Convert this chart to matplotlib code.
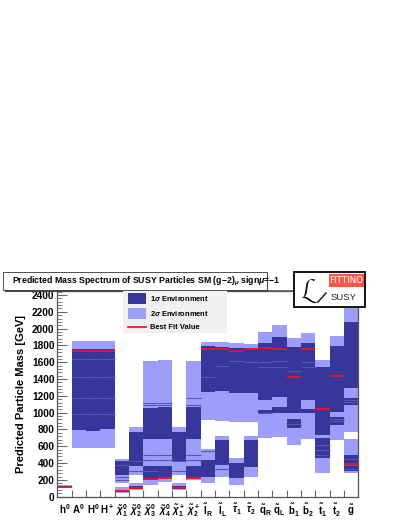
import matplotlib
matplotlib.use("Agg")
import matplotlib.pyplot as plt
from matplotlib.patches import Rectangle
from matplotlib.lines import Line2D

plt.rcParams['font.family'] = ['Liberation Sans', 'DejaVu Sans']
plt.rcParams['mathtext.fontset'] = 'custom'
plt.rcParams['mathtext.rm'] = 'Liberation Sans:bold'
plt.rcParams['mathtext.bf'] = 'Liberation Sans:bold'
plt.rcParams['mathtext.it'] = 'Liberation Sans:bold:italic'

# ---------------- data (GeV) ----------------
labels = [r'$\mathbf{h^0}$', r'$\mathbf{A^0}$', r'$\mathbf{H^0}$', r'$\mathbf{H^+}$',
          r'$\tilde{\chi}^0_1$', r'$\tilde{\chi}^0_2$', r'$\tilde{\chi}^0_3$', r'$\tilde{\chi}^0_4$',
          r'$\tilde{\chi}^+_1$', r'$\tilde{\chi}^+_2$', r'$\tilde{\mathbf{l}}_\mathbf{R}$', r'$\tilde{\mathbf{l}}_\mathbf{L}$',
          r'$\tilde{\tau}_1$', r'$\tilde{\tau}_2$', r'$\tilde{\mathbf{q}}_\mathbf{R}$', r'$\tilde{\mathbf{q}}_\mathbf{L}$',
          r'$\tilde{\mathbf{b}}_\mathbf{1}$', r'$\tilde{\mathbf{b}}_\mathbf{2}$', r'$\tilde{\mathbf{t}}_\mathbf{1}$',
          r'$\tilde{\mathbf{t}}_\mathbf{2}$', r'$\tilde{\mathbf{g}}$']

sigma2 = [[(100, 135)], [(575, 1855)], [(575, 1855)], [(575, 1855)],
          [(45, 120), (160, 450)], [(80, 160), (258, 835)], [(140, 1610)], [(175, 1625)],
          [(85, 160), (258, 835)], [(195, 1615)], [(160, 565), (915, 1840)], [(240, 725), (905, 1840)],
          [(140, 455), (890, 1825)], [(240, 720), (890, 1815)], [(695, 1965)], [(715, 2045)],
          [(615, 1890)], [(690, 1945)], [(280, 1625)], [(675, 1910)], [(280, 685), (775, 2240)]]

sigma1 = [[(110, 128)], [(794, 1760)], [(786, 1760)], [(802, 1760)],
          [(50, 85), (260, 420)], [(90, 130), (370, 765)], [(200, 360), (690, 1060)], [(220, 360), (685, 1070)],
          [(90, 130), (420, 765)], [(225, 360), (690, 1070)], [(240, 440), (1240, 1790)], [(380, 675), (1260, 1785)],
          [(220, 400), (1230, 1765)], [(355, 675), (1230, 1770)], [(995, 1035), (1150, 1825)], [(1000, 1070), (1190, 1905)],
          [(815, 930), (990, 1785)], [(995, 1040), (1150, 1825)], [(460, 695), (735, 1545)], [(850, 950), (1010, 1795)],
          [(300, 495), (1090, 1170), (1290, 2080)]]

stripes = [[], [1640, 1420, 1180, 980], [1640, 1420, 1180, 980], [1640, 1420, 1180, 980],
           [380, 230, 200], [430, 300], [1110, 1091, 496, 437, 300], [1110, 1091, 496, 437],
           [430, 300], [1180, 1091, 496, 437], [1420, 540], [1560, 330],
           [1620], [1600], [1600, 1540, 1000], [1620, 1540],
           [1500, 870], [1600, 1540], [620, 560, 500], [920, 900], [1150, 1130, 450, 380, 330]]

best_fit = [118, 1730, 1730, 1730, 64, 100, 211, 219, 100, 226, 1757, 1757,
            1737, 1754, 1773, 1754, 1428, 1754, 1040, 1440, 386]

yticks = list(range(0, 2401, 200))

DARK = '#37379b'
LIGHT = '#9d9dfa'
STRIPE = '#5656b8'
RED = '#ee1122'

W, H = 407, 527
fig = plt.figure(figsize=(W / 100, H / 100), dpi=100)

def fx(px):
    return px / W

def fy(py):
    return 1 - py / H

ax_l, ax_r, ax_b, ax_t = 57.3, 358.3, 496.7, 290.8
ax = fig.add_axes([fx(ax_l), fy(ax_b), fx(ax_r) - fx(ax_l), fy(ax_t) - fy(ax_b)])

n = len(labels)
for i in range(n):
    for lo, hi in sigma2[i]:
        ax.bar(i, hi - lo, bottom=lo, width=1.0, color=LIGHT, linewidth=0, zorder=1)
    for lo, hi in sigma1[i]:
        ax.bar(i, hi - lo, bottom=lo, width=1.0, color=DARK, linewidth=0, zorder=2)
    for v in stripes[i]:
        ax.hlines(v, i - 0.5, i + 0.5, color=STRIPE, linewidth=0.8, zorder=2.5)
    ax.hlines(best_fit[i], i - 0.5, i + 0.5, color=RED, linewidth=1.3, zorder=3)

ax.set_xlim(-0.5, n - 0.5)
ax.set_ylim(0, 2450)
ax.set_yticks(yticks)
ax.set_yticklabels([str(v) for v in yticks], fontsize=7.3, fontweight='bold')
ax.set_yticks(range(0, 2450, 40), minor=True)
ax.tick_params(axis='y', which='major', direction='in', length=7, width=0.8, color='#666666', pad=2)
ax.tick_params(axis='y', which='minor', direction='in', length=3.5, width=0.6, color='#666666')
ax.set_xticks([i + 0.5 for i in range(n - 1)])
ax.set_xticklabels([])
ax.set_xticks(range(n), minor=True)
ax.set_xticklabels(labels, minor=True, fontsize=7)
ax.tick_params(axis='x', which='major', direction='in', length=5, width=0.8, color='#666666')
ax.tick_params(axis='x', which='minor', length=0, pad=4)
for s in ax.spines.values():
    s.set_color('#555555')
    s.set_linewidth(0.9)
ax.set_ylabel('Predicted Particle Mass [GeV]', fontsize=8, fontweight='bold', labelpad=4)

# ---- title box ----
fig.patches.append(Rectangle((fx(4.5), fy(291.5)), fx(268) - fx(4.5), fy(273.5) - fy(291.5),
                             transform=fig.transFigure, facecolor='#444444', edgecolor='none', zorder=5))
fig.patches.append(Rectangle((fx(3.3), fy(290)), fx(267) - fx(3.3), fy(272.3) - fy(290),
                             transform=fig.transFigure, facecolor='white', edgecolor='#333333',
                             linewidth=0.6, zorder=6))
fig.text(fx(12), fy(281.2), r'Predicted Mass Spectrum of SUSY Particles SM (g$-$2)$_\mu$ sign$\mu$=$-$1',
         fontsize=6.3, fontweight='bold', ha='left', va='center', zorder=7)
fig.lines.append(Line2D([fx(267), fx(293)], [fy(290), fy(290)], transform=fig.transFigure,
                        color='#555555', linewidth=0.6, zorder=5))

# ---- logo ----
fig.patches.append(Rectangle((fx(293.5), fy(307)), fx(365) - fx(293.5), fy(272) - fy(307),
                             transform=fig.transFigure, facecolor='white', edgecolor='black',
                             linewidth=1.3, zorder=6))
fig.patches.append(Rectangle((fx(329), fy(287)), fx(363.5) - fx(329), fy(273.5) - fy(287),
                             transform=fig.transFigure, facecolor='#ff5544', edgecolor='none', zorder=7))
fig.text(fx(346), fy(280.5), 'FITTINO', fontsize=6.3, color='white', ha='center', va='center',
         zorder=8, family='Liberation Sans Narrow')
fig.text(fx(310), fy(291), r'$\mathcal{L}$', fontsize=19, color='#111111', ha='center', va='center', zorder=8)
fig.lines.append(Line2D([fx(318), fx(326)], [fy(302), fy(293)], transform=fig.transFigure,
                        color='#111111', linewidth=1.0, zorder=8))
fig.text(fx(344), fy(298), 'SUSY', fontsize=6.8, color='#222222', ha='center', va='center', zorder=8)

# ---- legend ----
fig.patches.append(Rectangle((fx(123), fy(333)), fx(227) - fx(123), fy(290) - fy(333),
                             transform=fig.transFigure, facecolor='#f0f0f0', edgecolor='none', zorder=5))
fig.patches.append(Rectangle((fx(127.5), fy(304)), fx(146) - fx(127.5), fy(293.5) - fy(304),
                             transform=fig.transFigure, facecolor=DARK, edgecolor='none', zorder=6))
fig.patches.append(Rectangle((fx(127.5), fy(318.5)), fx(146) - fx(127.5), fy(307.5) - fy(318.5),
                             transform=fig.transFigure, facecolor=LIGHT, edgecolor='none', zorder=6))
fig.lines.append(Line2D([fx(127.5), fx(146)], [fy(327), fy(327)], transform=fig.transFigure,
                        color='red', linewidth=1.2, zorder=6))
fig.text(fx(149.5), fy(298.8), r'1$\sigma$ Environment', fontsize=5.4, fontweight='bold', va='center', zorder=7)
fig.text(fx(149.5), fy(313), r'2$\sigma$ Environment', fontsize=5.4, fontweight='bold', va='center', zorder=7)
fig.text(fx(149.5), fy(327.5), 'Best Fit Value', fontsize=5.4, fontweight='bold', va='center', zorder=7)

fig.savefig('out.png', dpi=100)
